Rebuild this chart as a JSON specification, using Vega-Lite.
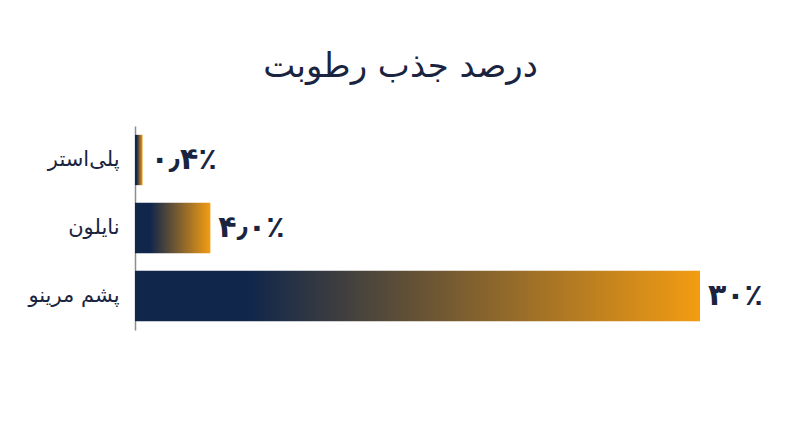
{
  "$schema": "https://vega.github.io/schema/vega-lite/v6.json",
  "autosize": "none",
  "width": 565,
  "height": 204,
  "padding": {"left": 135, "top": 126, "right": 100, "bottom": 117},
  "background": "white",
  "config": {
    "font": "DejaVu Sans",
    "view": {"stroke": null},
    "title": {"fontSize": 34, "fontWeight": 500, "color": "#1a2440", "anchor": "middle"}
  },
  "title": {"text": "درصد جذب رطوبت", "dx": -17, "offset": 42},
  "data": {
    "values": [
      {"material": "پلی‌استر", "value": 0.4, "label": "۰٫۴٪"},
      {"material": "نایلون", "value": 4.0, "label": "۴٫۰٪"},
      {"material": "پشم مرینو", "value": 30, "label": "۳۰٪"}
    ]
  },
  "encoding": {
    "y": {
      "field": "material",
      "type": "nominal",
      "sort": null,
      "scale": {"paddingInner": 0.26, "paddingOuter": 0.13},
      "axis": {
        "title": null,
        "ticks": false,
        "domainColor": "#8a8d94",
        "domainWidth": 1.5,
        "labelFontSize": 21,
        "labelColor": "#1a2440",
        "labelPadding": 16
      }
    },
    "x": {
      "field": "value",
      "type": "quantitative",
      "scale": {"domain": [0, 30]},
      "axis": null
    }
  },
  "layer": [
    {
      "mark": {
        "type": "bar",
        "color": {
          "gradient": "linear",
          "x1": 0, "x2": 1, "y1": 0, "y2": 0,
          "stops": [
            {"offset": 0, "color": "#10264b"},
            {"offset": 0.2, "color": "#10264b"},
            {"offset": 1, "color": "#f39c12"}
          ]
        }
      }
    },
    {
      "mark": {
        "type": "text",
        "align": "left",
        "baseline": "middle",
        "dx": 8,
        "fontSize": 30,
        "fontWeight": "bold",
        "color": "#1a2440"
      },
      "encoding": {"text": {"field": "label"}}
    }
  ]
}
